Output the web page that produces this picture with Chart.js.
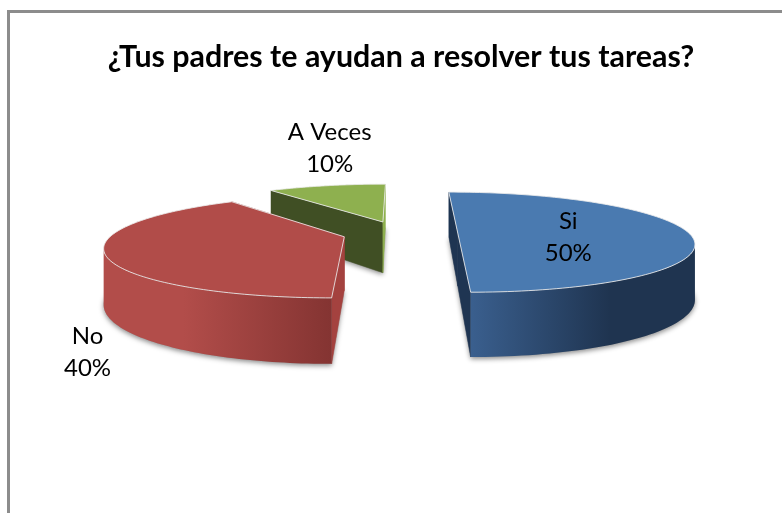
<!DOCTYPE html>
<html><head><meta charset="utf-8">
<style>html,body{margin:0;padding:0;background:#fff;overflow:hidden;width:782px;height:513px}
#frame{position:absolute;left:7px;top:10px;width:790px;height:520px;box-sizing:border-box;border:3px solid #8c8c8c}
canvas{position:absolute;left:0;top:0}</style>
<script src="https://cdn.jsdelivr.net/npm/chart.js@4"></script></head>
<body><div id="frame"></div><div style="position:absolute;left:0;top:0;width:782px;height:513px"><canvas id="c" width="782" height="513"></canvas></div>
<script>
const categories = ['Si', 'No', 'A Veces'];
const values = [50, 40, 10];
const percentLabels = ['50%', '40%', '10%'];
const topColors = ['#4a7ab0', '#b14c49', '#8eb04f'];
const startFaceColors = ['#1f3552', '#a4423f', '#404f24'];
const endFaceColors = ['#1f3552', '#a4423f', '#8eb04f'];
const wallColorsNear = ['#3a5f8e', '#b24d4a', '#8eb04f'];
const wallColorsFar = ['#1f3450', '#843432', '#6f8a3d'];
const labelShift = [[-120.5, 4], [-17, 99], [3, -37]];

const VP = {x: 400, y: -32}, F = 265, K = 0.1826, A = 231, H = 53, EXPLODE = 0.25;
function project(mx, mv, z) {
  const d = 1 - K * mv;
  return [VP.x + A * mx / d, VP.y + (F + H * z) / d];
}
function geom(arc) {
  const p = arc.getProps(['startAngle', 'endAngle'], true);
  const mid = (p.startAngle + p.endAngle) / 2;
  return {ox: Math.cos(mid) * EXPLODE, ov: Math.sin(mid) * EXPLODE, a0: p.startAngle, a1: p.endAngle, mid};
}
function rim(g, ang, z) { return project(g.ox + Math.cos(ang), g.ov + Math.sin(ang), z); }
function apex(g, z) { return project(g.ox, g.ov, z); }
function area(pts) { let s = 0; pts.forEach((q, i) => { const n = pts[(i + 1) % pts.length]; s += q[0] * n[1] - n[0] * q[1]; }); return s / 2; }
function poly(ctx, pts) { ctx.beginPath(); pts.forEach((q, i) => i ? ctx.lineTo(q[0], q[1]) : ctx.moveTo(q[0], q[1])); ctx.closePath(); }

const pie3d = {
  id: 'pie3d',
  beforeDatasetDraw(chart, args) {
    const ctx = chart.ctx, arcs = chart.getDatasetMeta(args.index).data;
    const order = arcs.map((a, i) => i).sort((i, j) => geom(arcs[i]).ov - geom(arcs[j]).ov);
    order.forEach(i => {
      const g = geom(arcs[i]), N = 120;
      const topPts = [apex(g, 0)], botPts = [apex(g, 1)];
      for (let k = 0; k <= N; k++) {
        const t = g.a0 + (g.a1 - g.a0) * k / N;
        topPts.push(rim(g, t, 0)); botPts.push(rim(g, t, 1));
      }
      ctx.save();
      ctx.shadowColor = 'rgba(0,0,0,0.45)'; ctx.shadowBlur = 5; ctx.shadowOffsetX = 0; ctx.shadowOffsetY = 2;
      ctx.fillStyle = '#999';
      poly(ctx, botPts); ctx.fill();
      ctx.restore();
      [[g.a0, startFaceColors[i]], [g.a1, endFaceColors[i]]].forEach(([ang, col]) => {
        const q = [apex(g, 0), rim(g, ang, 0), rim(g, ang, 1), apex(g, 1)];
        ctx.fillStyle = col; ctx.strokeStyle = col; ctx.lineWidth = 0.5;
        poly(ctx, q); ctx.fill(); ctx.stroke();
      });
      const upper = [], lower = [];
      for (let k = 0; k < N; k++) {
        const t0 = g.a0 + (g.a1 - g.a0) * k / N, t1 = g.a0 + (g.a1 - g.a0) * (k + 1) / N;
        const q = [rim(g, t0, 0), rim(g, t1, 0), rim(g, t1, 1), rim(g, t0, 1)];
        if (area(q) < 0 && Math.sin((t0 + t1) / 2) > -0.2) {
          if (!upper.length) { upper.push(q[0]); lower.push(q[3]); }
          upper.push(q[1]); lower.push(q[2]);
        }
      }
      if (upper.length) {
        const wall = upper.concat(lower.slice().reverse());
        const xs = wall.map(q => q[0]);
        const lo = Math.min(...xs), hi = Math.max(...xs);
        const grad = ctx.createLinearGradient(lo, 0, hi, 0);
        if (i === 0) { grad.addColorStop(0, wallColorsNear[i]); grad.addColorStop(0.62, wallColorsFar[i]); grad.addColorStop(1, wallColorsFar[i]); }
        else { grad.addColorStop(0, wallColorsNear[i]); grad.addColorStop(0.35, wallColorsNear[i]); grad.addColorStop(1, wallColorsFar[i]); }
        ctx.fillStyle = grad;
        poly(ctx, wall); ctx.fill();
      }
      ctx.fillStyle = topColors[i];
      poly(ctx, topPts); ctx.fill();
      ctx.strokeStyle = 'rgba(235,235,235,0.85)'; ctx.lineWidth = 1; ctx.lineJoin = 'round';
      ctx.stroke();
    });
    ctx.save();
    ctx.fillStyle = '#000'; ctx.textAlign = 'center'; ctx.textBaseline = 'middle';
    ctx.font = '24px Lato';
    arcs.forEach((arc, i) => {
      const g = geom(arc), e = rim(g, g.mid, 0);
      const x = e[0] + labelShift[i][0], y = e[1] + labelShift[i][1];
      ctx.fillText(categories[i], x, y - 16);
      ctx.fillText(percentLabels[i], x, y + 16);
    });
    ctx.restore();
    return false;
  }
};

new Chart(document.getElementById('c'), {
  type: 'pie',
  data: {labels: categories, datasets: [{data: values, backgroundColor: topColors, borderWidth: 0}]},
  options: {
    responsive: false, animation: false, rotation: 0,
    layout: {padding: {top: 39, left: 30, right: 10}},
    plugins: {
      legend: {display: false}, tooltip: {enabled: false},
      title: {display: true, text: '¿Tus padres te ayudan a resolver tus tareas?', color: '#000',
        font: {family: 'Lato', size: 30.4, weight: 'bold'}, padding: {top: 0, bottom: 10}}
    }
  },
  plugins: [pie3d]
});
</script></body></html>
